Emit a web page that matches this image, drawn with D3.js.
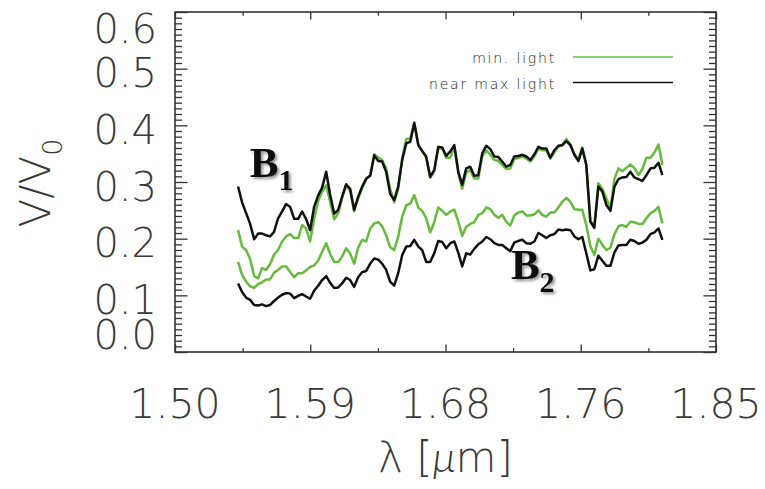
<!DOCTYPE html>
<html>
<head>
<meta charset="utf-8">
<script src="https://cdn.jsdelivr.net/npm/d3@7"></script>
<style>
  html, body { margin: 0; padding: 0; background: #ffffff; }
  svg { display: block; }
</style>
</head>
<body>
<svg id="chart" width="765" height="489"></svg>
<script>
// Wavelength sampling of the spectra (micrometres)
const wavelength = [
  1.5408, 1.5434, 1.5460, 1.5486, 1.5512, 1.5538, 1.5563, 1.5589, 1.5615, 1.5641,
  1.5667, 1.5693, 1.5719, 1.5745, 1.5771, 1.5797, 1.5822, 1.5848, 1.5874, 1.5900,
  1.5926, 1.5952, 1.5978, 1.6004, 1.6030, 1.6056, 1.6081, 1.6107, 1.6133, 1.6159,
  1.6185, 1.6211, 1.6237, 1.6263, 1.6289, 1.6315, 1.6340, 1.6366, 1.6392, 1.6418,
  1.6444, 1.6470, 1.6496, 1.6522, 1.6548, 1.6574, 1.6599, 1.6625, 1.6651, 1.6677,
  1.6703, 1.6729, 1.6755, 1.6781, 1.6807, 1.6833, 1.6858, 1.6884, 1.6910, 1.6936,
  1.6962, 1.6988, 1.7014, 1.7040, 1.7066, 1.7092, 1.7117, 1.7143, 1.7169, 1.7195,
  1.7221, 1.7247, 1.7273, 1.7299, 1.7325, 1.7351, 1.7376, 1.7402, 1.7428, 1.7454,
  1.7480, 1.7506, 1.7532, 1.7558, 1.7584, 1.7610, 1.7635, 1.7661, 1.7687, 1.7713,
  1.7739, 1.7765, 1.7791, 1.7817, 1.7843, 1.7869, 1.7894, 1.7920, 1.7946, 1.7972,
  1.7998, 1.8024, 1.8050, 1.8076, 1.8102, 1.8128, 1.8153
];

// Visibility V/V0, baseline B1, minimum light
const minLightB1 = [
  0.215, 0.186, 0.180, 0.164, 0.134, 0.130, 0.148, 0.145, 0.155, 0.172,
  0.180, 0.195, 0.204, 0.208, 0.201, 0.201, 0.224, 0.218, 0.195, 0.235,
  0.266, 0.283, 0.294, 0.265, 0.234, 0.245, 0.271,
  0.294, 0.284, 0.248, 0.271, 0.289, 0.305, 0.312, 0.349, 0.343, 0.339,
  0.324, 0.288, 0.264, 0.288, 0.342, 0.376, 0.377, 0.405, 0.366, 0.354,
  0.343, 0.308, 0.319, 0.359, 0.359, 0.343, 0.343,
  0.362, 0.315, 0.288, 0.317, 0.321, 0.306, 0.306, 0.345, 0.356, 0.348,
  0.339, 0.337, 0.330, 0.323, 0.324, 0.341, 0.342, 0.345, 0.341, 0.336,
  0.345, 0.359, 0.356, 0.356, 0.341, 0.352, 0.362,
  0.366, 0.376, 0.366, 0.349, 0.339, 0.361, 0.330, 0.231, 0.224, 0.298,
  0.288, 0.271, 0.251, 0.306, 0.324, 0.319, 0.325, 0.331, 0.325, 0.312,
  0.323, 0.343, 0.343, 0.352, 0.366, 0.330
];

// Visibility V/V0, baseline B1, near maximum light
const maxLightB1 = [
  0.292, 0.264, 0.245, 0.226, 0.199, 0.209, 0.209, 0.206, 0.204, 0.212,
  0.236, 0.248, 0.261, 0.256, 0.235, 0.235, 0.248, 0.235, 0.215, 0.256,
  0.276, 0.290, 0.318, 0.277, 0.244, 0.251, 0.274,
  0.296, 0.288, 0.251, 0.274, 0.292, 0.306, 0.311, 0.347, 0.337, 0.336,
  0.318, 0.279, 0.268, 0.292, 0.339, 0.368, 0.371, 0.404, 0.365, 0.355,
  0.345, 0.309, 0.321, 0.362, 0.361, 0.346, 0.354,
  0.365, 0.318, 0.295, 0.324, 0.327, 0.311, 0.312, 0.351, 0.364, 0.358,
  0.345, 0.344, 0.336, 0.327, 0.330, 0.345, 0.346, 0.348, 0.345, 0.339,
  0.349, 0.362, 0.359, 0.359, 0.343, 0.356, 0.364,
  0.365, 0.372, 0.365, 0.348, 0.337, 0.359, 0.330, 0.230, 0.219, 0.292,
  0.283, 0.259, 0.249, 0.292, 0.305, 0.308, 0.309, 0.318, 0.308, 0.305,
  0.302, 0.312, 0.324, 0.325, 0.334, 0.312
];

// Visibility V/V0, baseline B2, minimum light
const minLightB2 = [
  0.159, 0.136, 0.124, 0.116, 0.113, 0.120, 0.123, 0.128, 0.128, 0.140,
  0.145, 0.151, 0.151, 0.141, 0.132, 0.139, 0.139, 0.144, 0.150, 0.153,
  0.161, 0.177, 0.192, 0.173, 0.159, 0.159, 0.168,
  0.183, 0.174, 0.156, 0.184, 0.198, 0.195, 0.218, 0.227, 0.229, 0.222,
  0.206, 0.185, 0.180, 0.204, 0.239, 0.259, 0.262, 0.277, 0.255, 0.249,
  0.236, 0.211, 0.229, 0.255, 0.249, 0.242, 0.248,
  0.251, 0.230, 0.205, 0.221, 0.226, 0.229, 0.242, 0.245, 0.255, 0.252,
  0.242, 0.237, 0.242, 0.230, 0.223, 0.241, 0.246, 0.248, 0.241, 0.241,
  0.243, 0.250, 0.242, 0.239, 0.246, 0.246, 0.255,
  0.265, 0.272, 0.265, 0.252, 0.251, 0.251, 0.224, 0.187, 0.171, 0.200,
  0.189, 0.180, 0.184, 0.208, 0.222, 0.224, 0.221, 0.230, 0.229, 0.226,
  0.226, 0.236, 0.245, 0.249, 0.256, 0.227
];

// Visibility V/V0, baseline B2, near maximum light
const maxLightB2 = [
  0.121, 0.106, 0.096, 0.092, 0.083, 0.082, 0.084, 0.081, 0.083, 0.090,
  0.096, 0.101, 0.104, 0.103, 0.095, 0.099, 0.102, 0.098, 0.094, 0.108,
  0.117, 0.127, 0.134, 0.122, 0.113, 0.114, 0.121,
  0.131, 0.127, 0.115, 0.132, 0.141, 0.143, 0.156, 0.165, 0.163, 0.156,
  0.145, 0.124, 0.117, 0.139, 0.171, 0.186, 0.187, 0.198, 0.186, 0.180,
  0.159, 0.159, 0.174, 0.196, 0.194, 0.183, 0.192,
  0.195, 0.175, 0.151, 0.174, 0.172, 0.182, 0.190, 0.195, 0.203, 0.199,
  0.192, 0.189, 0.189, 0.183, 0.178, 0.193, 0.196, 0.198, 0.192, 0.191,
  0.195, 0.210, 0.206, 0.201, 0.206, 0.208, 0.216,
  0.215, 0.216, 0.215, 0.204, 0.199, 0.203, 0.174, 0.144, 0.146, 0.170,
  0.161, 0.152, 0.152, 0.176, 0.188, 0.189, 0.189, 0.198, 0.196, 0.191,
  0.193, 0.198, 0.208, 0.211, 0.218, 0.198
];

// Axis ticks and labels
const xTickValues = [1.50, 1.5875, 1.675, 1.7625, 1.85];
const xTickLabels = ["1.50", "1.59", "1.68", "1.76", "1.85"];
const yTickValues = [0.0, 0.1, 0.2, 0.3, 0.4, 0.5, 0.6];
const yTickLabels = ["0.0", "0.1", "0.2", "0.3", "0.4", "0.5", "0.6"];

// Legend entries
const legendLabels = ["min. light", "near max light"];
const legendColors = ["#66bb3f", "#111111"];

// Baseline annotations, anchored in data coordinates (λ, V/V0)
const baselineNames = ["B", "B"];
const baselineSubs = ["1", "2"];
const baselineLambda = [1.5484, 1.7173];
const baselineValue = [0.309, 0.129];

// ---------------------------------------------------------------
const GREEN = "#66bb3f", BLACK = "#111111", AXIS = "#333333", TEXT = "#3a3a3a";
const LIGHT_FONT = "'DejaVu Sans', sans-serif";

const svg = d3.select("#chart");
const plot = { left: 175, right: 716, top: 12, bottom: 352 };

const x = d3.scaleLinear().domain([1.50, 1.85]).range([plot.left, plot.right]);
const y = d3.scaleLinear().domain([0, 0.6]).range([plot.bottom, plot.top]);

// Drop shadow for the baseline annotations
const defs = svg.append("defs");
const shadow = defs.append("filter").attr("id", "soft-shadow")
  .attr("x", "-30%").attr("y", "-30%").attr("width", "160%").attr("height", "160%");
shadow.append("feDropShadow")
  .attr("dx", 2).attr("dy", 2).attr("stdDeviation", 1.6)
  .attr("flood-color", "#000").attr("flood-opacity", 0.45);

// Tick positions: major plus minor subdivisions
const xMinor = d3.range(0, 9).map(i => 1.50 + i * 0.04375)
  .filter((d, i) => i % 2 === 1);
const yMinor = d3.range(0, 61).map(i => i / 100)
  .filter((d, i) => i % 10 !== 0);

function tickGroup(axis, transform) {
  const g = svg.append("g").attr("transform", transform).call(axis);
  g.select(".domain").remove();
  g.selectAll(".tick line").attr("stroke", AXIS).attr("stroke-width", 1.3);
  g.selectAll(".tick text").remove();
  return g;
}

// Bottom and top axes (ticks point inward)
tickGroup(d3.axisBottom(x).tickValues(xTickValues).tickSize(-7.5).tickFormat(""), `translate(0,${plot.bottom})`);
tickGroup(d3.axisBottom(x).tickValues(xMinor).tickSize(-3.8).tickFormat(""), `translate(0,${plot.bottom})`);
tickGroup(d3.axisTop(x).tickValues(xTickValues).tickSize(-7.5).tickFormat(""), `translate(0,${plot.top})`);
tickGroup(d3.axisTop(x).tickValues(xMinor).tickSize(-3.8).tickFormat(""), `translate(0,${plot.top})`);

// Left and right axes (ticks point inward)
tickGroup(d3.axisLeft(y).tickValues(yTickValues).tickSize(-12.5).tickFormat(""), `translate(${plot.left},0)`);
tickGroup(d3.axisLeft(y).tickValues(yMinor).tickSize(-7).tickFormat(""), `translate(${plot.left},0)`);
tickGroup(d3.axisRight(y).tickValues(yTickValues).tickSize(-12.5).tickFormat(""), `translate(${plot.right},0)`);
tickGroup(d3.axisRight(y).tickValues(yMinor).tickSize(-7).tickFormat(""), `translate(${plot.right},0)`);

// Plot frame
svg.append("rect")
  .attr("x", plot.left).attr("y", plot.top)
  .attr("width", plot.right - plot.left).attr("height", plot.bottom - plot.top)
  .attr("fill", "none").attr("stroke", AXIS).attr("stroke-width", 1.6);

// X tick labels
svg.append("g").selectAll("text")
  .data(xTickValues)
  .join("text")
  .attr("x", d => x(d))
  .attr("y", 418)
  .attr("text-anchor", "middle")
  .attr("font-family", LIGHT_FONT)
  .attr("font-weight", 200)
  .attr("font-size", 41)
  .attr("fill", TEXT)
  .text((d, i) => xTickLabels[i]);

// Y tick labels, kept inside the vertical extent of the frame
svg.append("g").selectAll("text")
  .data(yTickValues)
  .join("text")
  .attr("x", 157)
  .attr("y", d => Math.min(334, Math.max(28, y(d) + 4)) + 14.5)
  .attr("text-anchor", "end")
  .attr("font-family", LIGHT_FONT)
  .attr("font-weight", 200)
  .attr("font-size", 40)
  .attr("fill", TEXT)
  .text((d, i) => yTickLabels[i]);

// Axis titles
const xTitle = svg.append("text")
  .attr("x", (plot.left + plot.right) / 2)
  .attr("y", 472)
  .attr("text-anchor", "middle")
  .attr("font-family", LIGHT_FONT)
  .attr("font-weight", 200)
  .attr("font-size", 42)
  .attr("fill", TEXT);
xTitle.append("tspan").text("λ [");
xTitle.append("tspan")
  .attr("font-family", "Lato, 'Open Sans', sans-serif")
  .attr("font-weight", 300)
  .attr("font-style", "italic")
  .text("μ");
xTitle.append("tspan").text("m]");

const yTitle = svg.append("text")
  .attr("transform", "translate(50,183) rotate(-90)")
  .attr("text-anchor", "middle")
  .attr("font-family", LIGHT_FONT)
  .attr("font-weight", 200)
  .attr("font-size", 42)
  .attr("fill", TEXT);
yTitle.append("tspan").text("V/V");
yTitle.append("tspan").attr("font-size", 27).attr("dy", 12).text("0");

// Spectra
const series = [
  { values: minLightB1, color: GREEN },
  { values: minLightB2, color: GREEN },
  { values: maxLightB1, color: BLACK },
  { values: maxLightB2, color: BLACK }
];
const line = d3.line()
  .x(d => x(d[0]))
  .y(d => y(d[1]));

svg.append("g").selectAll("path")
  .data(series)
  .join("path")
  .attr("d", s => line(wavelength.map((w, i) => [w, s.values[i]])))
  .attr("fill", "none")
  .attr("stroke", s => s.color)
  .attr("stroke-width", 2.5)
  .attr("stroke-linejoin", "round");

// Legend
const legend = svg.append("g");
legendLabels.forEach((label, i) => {
  const ly = 57 + i * 25.5;
  legend.append("text")
    .attr("x", 556).attr("y", ly + 6)
    .attr("text-anchor", "end")
    .attr("font-family", LIGHT_FONT)
    .attr("font-weight", 300)
    .attr("font-size", 14)
    .attr("letter-spacing", 1.8)
    .attr("fill", "#222")
    .text(label);
  legend.append("line")
    .attr("x1", 573).attr("x2", 673)
    .attr("y1", ly).attr("y2", ly)
    .attr("stroke", legendColors[i])
    .attr("stroke-width", 1.6);
});

// Baseline annotations
baselineNames.forEach((name, i) => {
  const t = svg.append("text")
    .attr("x", x(baselineLambda[i])).attr("y", y(baselineValue[i]))
    .attr("font-family", "'Liberation Serif', 'Times New Roman', serif")
    .attr("font-weight", "bold")
    .attr("font-size", 43)
    .attr("fill", "#111")
    .attr("filter", "url(#soft-shadow)");
  t.append("tspan").text(name);
  t.append("tspan").attr("font-size", 30).attr("dy", 13).text(baselineSubs[i]);
});
</script>
</body>
</html>
